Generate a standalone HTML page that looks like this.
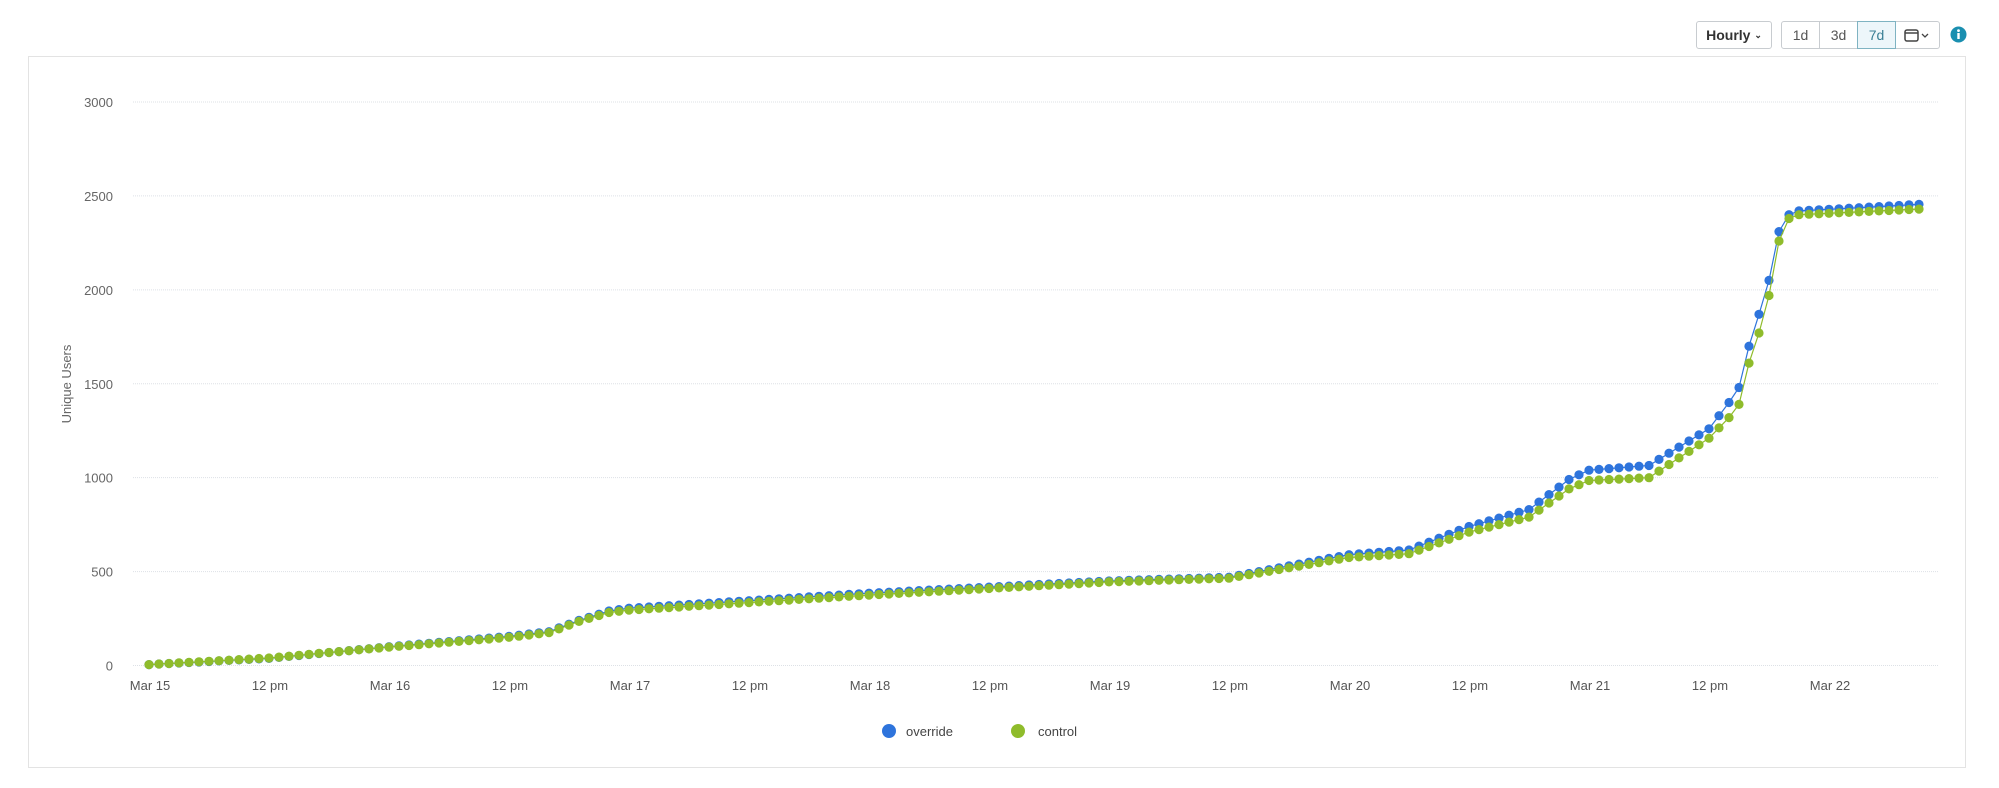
<!DOCTYPE html>
<html><head><meta charset="utf-8"><style>
body{margin:0;width:1999px;height:788px;background:#fff;font-family:"Liberation Sans",sans-serif;overflow:hidden;position:relative}
.frame{position:absolute;left:28px;top:56px;width:1938px;height:712px;border:1px solid #e3e3e3;box-sizing:border-box}
.btn{position:absolute;border:1px solid #c8ccd0;border-radius:3px;background:#fff;font-size:14px;color:#444;display:flex;align-items:center;justify-content:center;box-sizing:border-box}
</style></head><body>
<div class="frame"></div>
<div class="btn" style="left:1696px;top:21px;width:76px;height:28px;font-weight:bold;color:#333">Hourly&nbsp;<span style="font-size:9px">&#8964;</span></div>
<div style="position:absolute;left:1781px;top:21px;width:159px;height:28px;border:1px solid #c8ccd0;border-radius:3px;box-sizing:border-box;display:flex;font-size:14px;color:#555">
<div style="width:37px;display:flex;align-items:center;justify-content:center;border-right:1px solid #c8ccd0">1d</div>
<div style="width:37px;display:flex;align-items:center;justify-content:center;border-right:1px solid #c8ccd0">3d</div>
<div style="width:37px;display:flex;align-items:center;justify-content:center;background:#edf6fa;outline:1px solid #7fb3c2;color:#3a7f95">7d</div>
<div style="flex:1;display:flex;align-items:center;justify-content:center"><svg width="26" height="14"><rect x="1" y="2" width="13" height="11" rx="2" fill="none" stroke="#444" stroke-width="1.5"/><line x1="1" y1="5" x2="14" y2="5" stroke="#444" stroke-width="1.5"/><path d="M18 6 l3 3 l3 -3" fill="none" stroke="#444" stroke-width="1.3"/></svg></div>
</div>
<svg style="position:absolute;left:1950px;top:26px" width="17" height="17"><circle cx="8.5" cy="8.5" r="8" fill="#1a8fb0"/><rect x="7.3" y="7" width="2.4" height="6" fill="#fff"/><circle cx="8.5" cy="4.6" r="1.4" fill="#fff"/></svg>
<svg id="c" style="position:absolute;left:0;top:0" width="1999" height="788"></svg>
<script>
const s=document.getElementById('c');let h='';
const y0=665.5,k=(665.5-102)/3000;
for(let v=0;v<=3000;v+=500){const y=y0-v*k;h+=`<line x1="133" x2="1938" y1="${y}" y2="${y}" stroke="#dde1e6" stroke-dasharray="1,1"/><text x="113" y="${y+5}" text-anchor="end" font-size="13" fill="#666">${v}</text>`;}
h+=`<text transform="translate(71,384) rotate(-90)" text-anchor="middle" font-size="13" fill="#666">Unique Users</text>`;
const labs=['Mar 15','12 pm','Mar 16','12 pm','Mar 17','12 pm','Mar 18','12 pm','Mar 19','12 pm','Mar 20','12 pm','Mar 21','12 pm','Mar 22'];
labs.forEach((t,i)=>{h+=`<text x="${150+i*120}" y="690" text-anchor="middle" font-size="13" fill="#555">${t}</text>`});
function ser(kp){const a=[];for(let t=0;t<=177;t++){let j=0;while(kp[j+1][0]<t)j++;const [t0,v0]=kp[j],[t1,v1]=kp[j+1];a.push(v0+(v1-v0)*(t-t0)/(t1-t0));}return a;}
const ov=ser([[0,5],[12,38],[24,100],[36,155],[40,180],[43,240],[46,290],[48,305],[72,385],[96,450],[108,470],[120,590],[126,615],[132,740],[138,830],[142,990],[144,1040],[150,1065],[156,1260],[158,1400],[159,1480],[160,1700],[161,1870],[162,2050],[163,2310],[164,2400],[165,2420],[177,2455]]);
const co=ser([[0,5],[12,40],[24,98],[36,150],[40,175],[43,235],[46,282],[48,295],[72,375],[96,445],[108,465],[120,575],[126,595],[132,710],[138,790],[142,940],[144,985],[150,1000],[156,1210],[158,1320],[159,1390],[160,1610],[161,1770],[162,1970],[163,2260],[164,2380],[165,2400],[177,2430]]);
function draw(a,c){let p='';a.forEach((v,i)=>{p+=(i?'L':'M')+(149+i*10)+' '+(y0-v*k).toFixed(1)});h+=`<path d="${p}" fill="none" stroke="${c}" stroke-width="1.2"/>`;a.forEach((v,i)=>{h+=`<circle cx="${149+i*10}" cy="${(y0-v*k).toFixed(1)}" r="4.6" fill="${c}"/>`});}
draw(ov,'#2e74dc');draw(co,'#8fbc2b');
h+=`<circle cx="889" cy="731" r="7" fill="#2e74dc"/><text x="906" y="736" font-size="13" fill="#444">override</text><circle cx="1018" cy="731" r="7" fill="#8fbc2b"/><text x="1038" y="736" font-size="13" fill="#444">control</text>`;
s.innerHTML=h;
</script>
</body></html>
